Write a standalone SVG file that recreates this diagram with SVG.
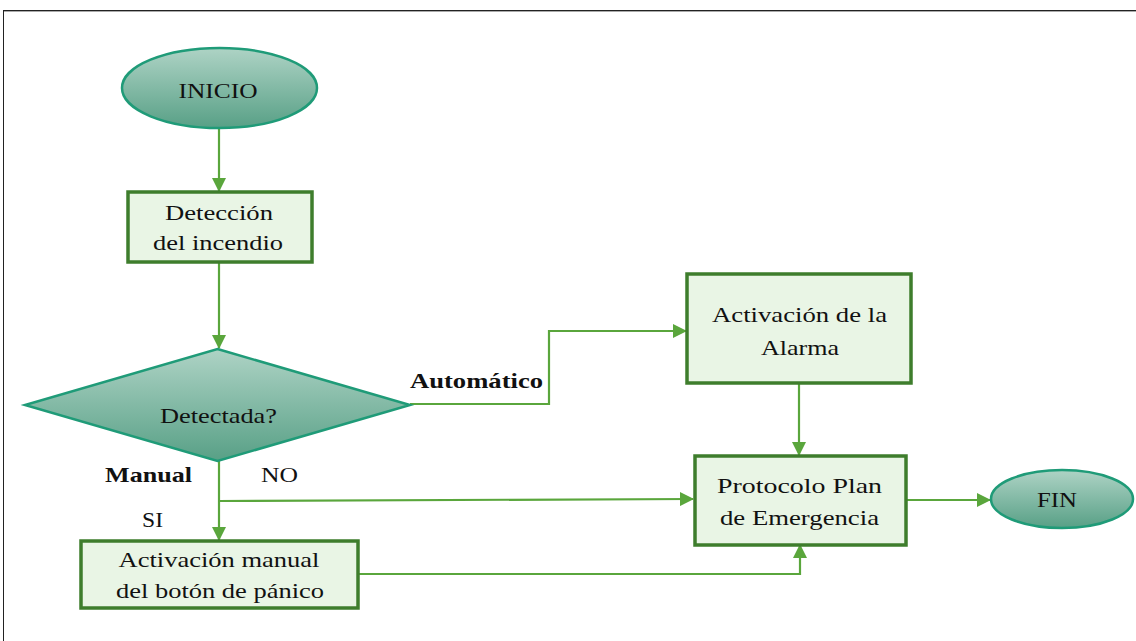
<svg xmlns="http://www.w3.org/2000/svg" width="1136" height="641" viewBox="0 0 1136 641">
<defs>
<linearGradient id="tg" x1="0" y1="0" x2="0" y2="1">
<stop offset="0" stop-color="#aed3c5"/>
<stop offset="1" stop-color="#58a086"/>
</linearGradient>
<marker id="ah" viewBox="0 0 14 14" refX="13" refY="7" markerWidth="14" markerHeight="14" markerUnits="userSpaceOnUse" orient="auto">
<path d="M0,0 L14,7 L0,14 Z" fill="#5aa63c"/>
</marker>
</defs>
<style>
.term{fill:url(#tg);stroke:#1f9b78;stroke-width:2.5}
.box{fill:#e9f5e5;stroke:#3e7d2c;stroke-width:3.5}
.con{fill:none;stroke:#5aa63c;stroke-width:2.2}
text{font-family:"Liberation Serif","Times New Roman",serif;font-size:22px;fill:#111}
.c{text-anchor:middle}
.b{font-weight:bold}
</style>
<rect width="1136" height="641" fill="#fff"/>
<g id="frame">
<line x1="3" y1="10.5" x2="1136" y2="10.5" stroke="#222" stroke-width="1"/>
<line x1="4" y1="11.5" x2="1136" y2="11.5" stroke="#aaa" stroke-width="1"/>
<line x1="3.5" y1="10" x2="3.5" y2="641" stroke="#222" stroke-width="1"/>
</g>
<g id="connectors">
<line class="con" x1="219" y1="128" x2="219" y2="191" marker-end="url(#ah)"/>
<line class="con" x1="219" y1="262" x2="219" y2="348" marker-end="url(#ah)"/>
<line class="con" x1="219" y1="461" x2="219" y2="540" marker-end="url(#ah)"/>
<polyline class="con" points="219,501 693,499" marker-end="url(#ah)"/>
<polyline class="con" points="410,404 549,404 549,331 686,331" marker-end="url(#ah)"/>
<line class="con" x1="799" y1="383" x2="799" y2="455" marker-end="url(#ah)"/>
<polyline class="con" points="358,574 800,574 800,545" marker-end="url(#ah)"/>
<line class="con" x1="906" y1="500" x2="990" y2="500" marker-end="url(#ah)"/>
</g>
<g id="inicio">
<ellipse class="term" cx="219.5" cy="88" rx="97.5" ry="40"/>
<text class="c" x="218" y="98" textLength="79" lengthAdjust="spacingAndGlyphs">INICIO</text>
</g>
<g id="deteccion">
<rect class="box" x="128" y="192" width="184" height="70"/>
<text class="c" x="219" y="220" textLength="108" lengthAdjust="spacingAndGlyphs">Detección</text>
<text class="c" x="218" y="250" textLength="130" lengthAdjust="spacingAndGlyphs">del incendio</text>
</g>
<g id="detectada">
<polygon points="217.5,349 410,405 217.5,461 25,405" fill="url(#tg)" stroke="#1f9b78" stroke-width="2.5"/>
<text class="c" x="218.5" y="423" textLength="117" lengthAdjust="spacingAndGlyphs">Detectada?</text>
</g>
<g id="labels">
<text class="b" x="410" y="388" textLength="133" lengthAdjust="spacingAndGlyphs">Automático</text>
<text class="b" x="105" y="482" textLength="87" lengthAdjust="spacingAndGlyphs">Manual</text>
<text x="261" y="482" textLength="37" lengthAdjust="spacingAndGlyphs">NO</text>
<text x="142" y="527" textLength="21" lengthAdjust="spacingAndGlyphs">SI</text>
</g>
<g id="manual">
<rect class="box" x="81" y="541" width="277" height="67"/>
<text class="c" x="219" y="567" textLength="201" lengthAdjust="spacingAndGlyphs">Activación manual</text>
<text class="c" x="220" y="598" textLength="208" lengthAdjust="spacingAndGlyphs">del botón de pánico</text>
</g>
<g id="alarma">
<rect class="box" x="687" y="274" width="224" height="109"/>
<text class="c" x="799.5" y="322" textLength="175" lengthAdjust="spacingAndGlyphs">Activación de la</text>
<text class="c" x="800" y="355" textLength="78" lengthAdjust="spacingAndGlyphs">Alarma</text>
</g>
<g id="protocolo">
<rect class="box" x="695" y="456" width="211" height="89"/>
<text class="c" x="799.5" y="493" textLength="165" lengthAdjust="spacingAndGlyphs">Protocolo Plan</text>
<text class="c" x="799.5" y="525" textLength="159" lengthAdjust="spacingAndGlyphs">de Emergencia</text>
</g>
<g id="fin">
<ellipse class="term" cx="1062" cy="499" rx="71" ry="29"/>
<text class="c" x="1057" y="507" textLength="40" lengthAdjust="spacingAndGlyphs">FIN</text>
</g>
</svg>
